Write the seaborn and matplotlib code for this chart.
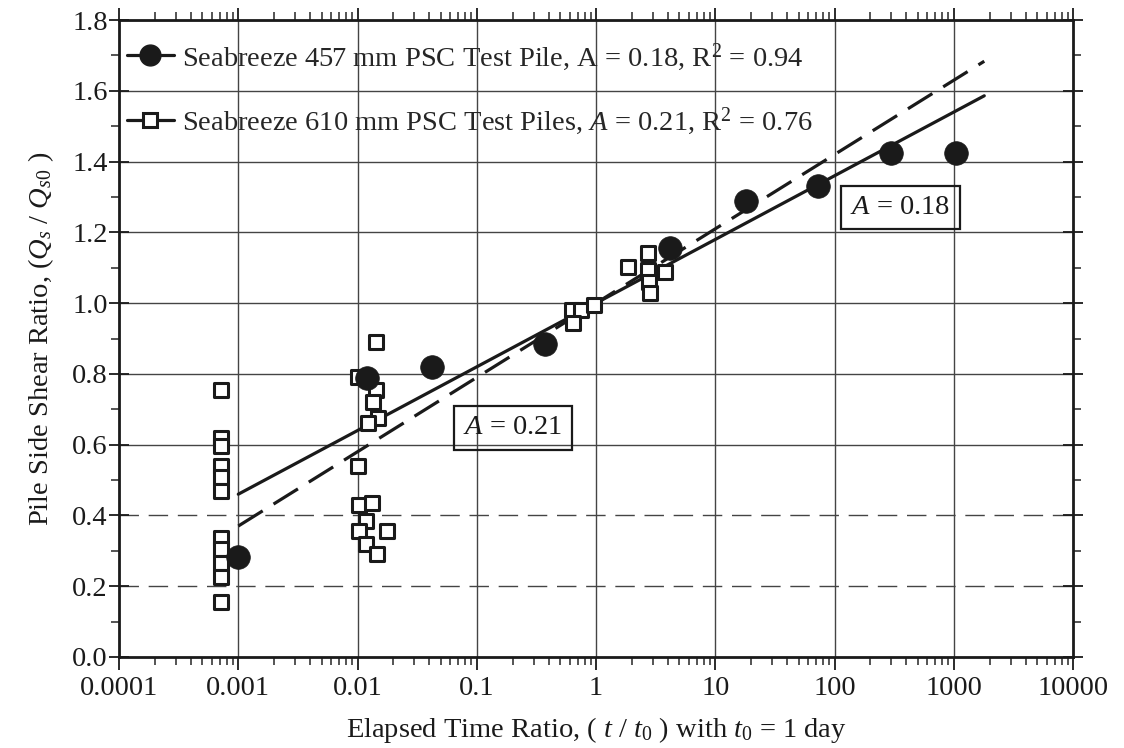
import numpy as np
import pandas as pd
import matplotlib
matplotlib.use("Agg")
import matplotlib.pyplot as plt
from matplotlib.lines import Line2D
from matplotlib.ticker import LogLocator, FixedLocator, FixedFormatter, MultipleLocator, NullFormatter
import seaborn as sns

# Seabreeze 457 mm PSC test pile (time ratio, side shear ratio)
pile457_t = [0.001, 0.0121, 0.042, 0.37, 4.2, 18.2, 72, 300, 1050]
pile457_q = [0.283, 0.788, 0.82, 0.884, 1.156, 1.289, 1.331, 1.424, 1.424]

# Seabreeze 610 mm PSC test piles
pile610_t = [0.00072] * 11 + [
    0.0101, 0.0143, 0.0142, 0.0135, 0.0148, 0.0122, 0.0101, 0.0103, 0.0133,
    0.0117, 0.0103, 0.0175, 0.0117, 0.0145,
    0.63, 0.75, 0.97, 0.64,
    1.86, 2.73, 2.73, 2.8, 2.84, 3.8,
]
pile610_q = [0.755, 0.62, 0.595, 0.54, 0.51, 0.47, 0.335, 0.305, 0.265, 0.225, 0.155] + [
    0.79, 0.89, 0.755, 0.72, 0.675, 0.66, 0.54, 0.43, 0.435,
    0.385, 0.355, 0.356, 0.32, 0.29,
    0.98, 0.98, 0.995, 0.944,
    1.102, 1.142, 1.094, 1.06, 1.029, 1.088,
]

# Setup factors A in Q/Q0 = 1 + A log10(t/t0)
A_457 = 0.18
A_610 = 0.21
r2_457 = 0.94
r2_610 = 0.76
fit_range = (0.001, 1800)

x_ticks = [0.0001, 0.001, 0.01, 0.1, 1, 10, 100, 1000, 10000]
x_tick_labels = ["0.0001", "0.001", "0.01", "0.1", "1", "10", "100", "1000", "10000"]
y_ticks = [0.0, 0.2, 0.4, 0.6, 0.8, 1.0, 1.2, 1.4, 1.6, 1.8]

FS = 20.5

sns.set_style("ticks")
plt.rcParams["font.family"] = ["Liberation Serif", "DejaVu Serif"]
plt.rcParams["mathtext.fontset"] = "custom"
plt.rcParams["mathtext.rm"] = "Liberation Serif"
plt.rcParams["mathtext.it"] = "Liberation Serif:italic"
plt.rcParams["mathtext.bf"] = "Liberation Serif:bold"

fig = plt.figure(figsize=(11.24, 7.48), dpi=100)
ax = fig.add_axes([0.1059, 0.1217, 0.8488, 0.8515])

ink = "#1a1a1a"
grid_c = "#444444"

# Grid: horizontal lines at 0.2 and 0.4 are long-dashed, the rest solid
for yv in y_ticks[1:]:
    if yv in (0.2, 0.4):
        ax.axhline(yv, color=grid_c, lw=1.0, dashes=(14, 7), zorder=0)
    else:
        ax.axhline(yv, color=grid_c, lw=1.0, zorder=0)
for xv in x_ticks[1:-1]:
    ax.axvline(xv, color=grid_c, lw=1.0, zorder=0)

# Fitted trend lines
t_fit = np.logspace(np.log10(fit_range[0]), np.log10(fit_range[1]), 50)
fit_df = pd.DataFrame({
    "t": np.concatenate([t_fit, t_fit]),
    "q": np.concatenate([1 + A_457 * np.log10(t_fit), 1 + A_610 * np.log10(t_fit)]),
    "pile": ["457"] * len(t_fit) + ["610"] * len(t_fit),
})
sns.lineplot(data=fit_df[fit_df.pile == "457"], x="t", y="q", ax=ax,
             color=ink, lw=2.3, zorder=2, legend=False)
sns.lineplot(data=fit_df[fit_df.pile == "610"], x="t", y="q", ax=ax,
             color=ink, lw=2.3, zorder=2, legend=False)
ax.lines[-1].set_dashes((9, 4))

# Measured points
sq_df = pd.DataFrame({"t": pile610_t, "q": pile610_q})
ci_df = pd.DataFrame({"t": pile457_t, "q": pile457_q})
sns.scatterplot(data=sq_df, x="t", y="q", ax=ax, marker="s", s=115,
                facecolor="white", edgecolor=ink, linewidth=2.2, zorder=3)
sns.scatterplot(data=ci_df, x="t", y="q", ax=ax, marker="o", s=290,
                color=ink, edgecolor=ink, linewidth=0.5, zorder=4)

ax.set_xscale("log")
ax.set_xlim(0.0001, 10000)
ax.set_ylim(0, 1.8)

ax.xaxis.set_major_locator(FixedLocator(x_ticks))
ax.xaxis.set_major_formatter(FixedFormatter(x_tick_labels))
ax.xaxis.set_minor_locator(LogLocator(base=10, subs=np.arange(2, 10), numticks=20))
ax.xaxis.set_minor_formatter(NullFormatter())
ax.yaxis.set_major_locator(FixedLocator(y_ticks))
ax.yaxis.set_major_formatter(FixedFormatter([f"{v:.1f}" for v in y_ticks]))
ax.yaxis.set_minor_locator(MultipleLocator(0.1))

ax.tick_params(axis="both", which="major", labelsize=FS, colors=ink, width=1.3)
ax.tick_params(axis="x", which="major", direction="out", length=9, top=True, pad=5)
ax.tick_params(axis="x", which="minor", direction="out", length=6, top=True, width=1.1)
ax.tick_params(axis="y", which="major", direction="inout", length=14, right=True, pad=1)
ax.tick_params(axis="y", which="minor", direction="out", length=6, right=True, width=1.1)

for sp in ax.spines.values():
    sp.set_visible(True)
    sp.set_color(ink)
    sp.set_linewidth(2.0)

ax.set_xlabel(r"Elapsed Time Ratio, ( $t$ / $t_0$ ) with $t_0$ = 1 day",
              fontsize=FS, color=ink, labelpad=10)
ax.set_ylabel(r"Pile Side Shear Ratio, ($Q_s$ / $Q_{s0}$ )",
              fontsize=FS, color=ink, labelpad=12)

# Annotation boxes for setup factors
box = dict(boxstyle="square,pad=0.33", facecolor="none", edgecolor=ink, lw=1.6)
ax.text(355, 1.27, rf"$A$ = {A_457:.2f}", fontsize=FS, ha="center", va="center",
        color=ink, bbox=box, zorder=5)
ax.text(0.2, 0.648, rf"$A$ = {A_610:.2f}", fontsize=FS, ha="center", va="center",
        color=ink, bbox=box, zorder=5)

handles = [
    Line2D([], [], color=ink, lw=2.3, marker="o", markersize=15,
           markerfacecolor=ink, markeredgecolor=ink),
    Line2D([], [], color=ink, lw=2.3, marker="s", markersize=10,
           markerfacecolor="white", markeredgecolor=ink, markeredgewidth=2.2),
]
labels = [
    rf"Seabreeze 457 mm PSC Test Pile, A = {A_457:.2f}, R$^2$ = {r2_457:.2f}",
    rf"Seabreeze 610 mm PSC Test Piles, $A$ = {A_610:.2f}, R$^2$ = {r2_610:.2f}",
]
ax.legend(handles, labels, loc="upper left", bbox_to_anchor=(-0.004, 0.985),
          frameon=False, fontsize=FS, handlelength=1.65, handletextpad=0.3,
          labelspacing=1.15, borderaxespad=0.0, borderpad=0.4)

fig.savefig("out.png", dpi=100, facecolor="white")
